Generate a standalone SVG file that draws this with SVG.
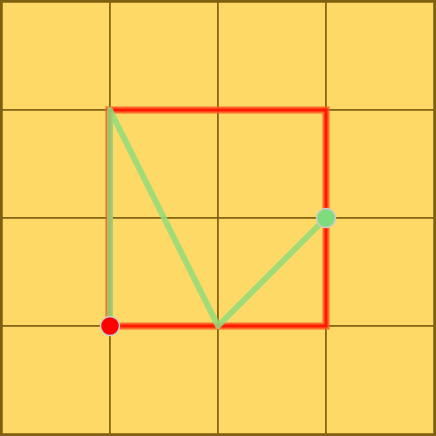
<svg xmlns="http://www.w3.org/2000/svg" width="436" height="436" viewBox="0 0 436 436">
<style>
.cell{fill:#ffd966;stroke:#7f6010;stroke-width:1.5}
.sq-out{fill:none;stroke:#ff5522;stroke-width:7;opacity:0.85}
.sq-in{fill:none;stroke:#ff1a00;stroke-width:3}
.path{fill:none;stroke:#90dc7c;stroke-width:6;opacity:0.85;stroke-linejoin:round;stroke-linecap:round}
.dot{stroke:#cccccc;stroke-width:1.5}
</style>
<g id="grid">
<rect x="0" y="0" width="436" height="436" fill="#ffd966"/>
<rect class="cell" x="2" y="2" width="108" height="108"/>
<rect class="cell" x="110" y="2" width="108" height="108"/>
<rect class="cell" x="218" y="2" width="108" height="108"/>
<rect class="cell" x="326" y="2" width="108" height="108"/>
<rect class="cell" x="2" y="110" width="108" height="108"/>
<rect class="cell" x="110" y="110" width="108" height="108"/>
<rect class="cell" x="218" y="110" width="108" height="108"/>
<rect class="cell" x="326" y="110" width="108" height="108"/>
<rect class="cell" x="2" y="218" width="108" height="108"/>
<rect class="cell" x="110" y="218" width="108" height="108"/>
<rect class="cell" x="218" y="218" width="108" height="108"/>
<rect class="cell" x="326" y="218" width="108" height="108"/>
<rect class="cell" x="2" y="326" width="108" height="108"/>
<rect class="cell" x="110" y="326" width="108" height="108"/>
<rect class="cell" x="218" y="326" width="108" height="108"/>
<rect class="cell" x="326" y="326" width="108" height="108"/>
<rect x="1" y="1" width="434" height="434" fill="none" stroke="#7f6010" stroke-width="2"/>
</g>
<g id="square">
<rect class="sq-out" x="109" y="110" width="217" height="216"/>
<rect class="sq-in" x="109" y="110" width="217" height="216"/>
</g>
<g id="connectors">
<polyline class="path" points="110,326 110,110 218,326 326,218"/>
</g>
<g id="start"><circle class="dot" cx="110" cy="326" r="9.5" fill="#ff0000"/></g>
<g id="end"><circle class="dot" cx="326" cy="218" r="9.5" fill="#7edc7e"/></g>
</svg>
